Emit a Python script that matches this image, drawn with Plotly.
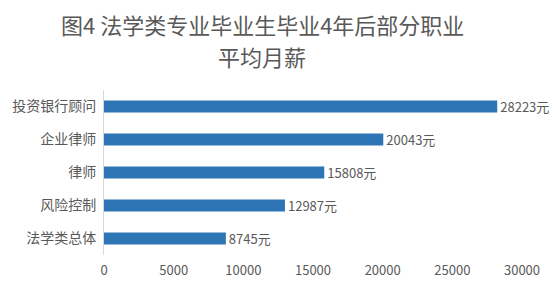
import plotly.graph_objects as go

categories = ["投资银行顾问", "企业律师", "律师", "风险控制", "法学类总体"]
values = [28223, 20043, 15808, 12987, 8745]
labels = [f"{v}元" for v in values]
tick_vals = [0, 5000, 10000, 15000, 20000, 25000, 30000]
tick_text = ["0", "5000", "10000", "15000", "20000", "25000", "30000"]
title_lines = ["图4 法学类专业毕业生毕业4年后部分职业", "平均月薪"]

FONT = "Noto Sans CJK SC"
GRAY = "#595959"

fig = go.Figure(go.Bar(
    x=values, y=categories, orientation="h",
    marker=dict(color="#2e75b6", line=dict(width=0)),
    width=0.36,
    text=labels, textposition="outside", cliponaxis=False,
    constraintext="none",
    textfont=dict(family=FONT, size=13, color=GRAY),
))

for i, line in enumerate(title_lines):
    fig.add_annotation(
        text=line, xref="paper", yref="paper",
        x=(261 - 102) / 420, xanchor="center",
        y=1 + (90 - 22 - 33 * i) / 171, yanchor="middle",
        showarrow=False,
        font=dict(family=FONT, size=22, color=GRAY),
    )

fig.update_layout(
    width=554, height=291,
    margin=dict(l=102, r=32, t=90, b=30),
    paper_bgcolor="white", plot_bgcolor="white",
    showlegend=False,
    font=dict(family=FONT, color=GRAY),
    xaxis=dict(
        range=[0, 30000], tickvals=tick_vals, ticktext=tick_text,
        showgrid=False, zeroline=False,
        showline=False, tickfont=dict(family=FONT, size=13, color=GRAY),
        ticks="", ticklabelstandoff=6,
    ),
    yaxis=dict(
        categoryorder="array", categoryarray=categories[::-1],
        showgrid=False, zeroline=False, showline=True, linecolor="#d9d9d9",
        linewidth=1, ticks="", tickfont=dict(family=FONT, size=14, color=GRAY),
        ticklabelstandoff=4,
    ),
    bargap=0.64,
)

fig.write_html("out.html")
